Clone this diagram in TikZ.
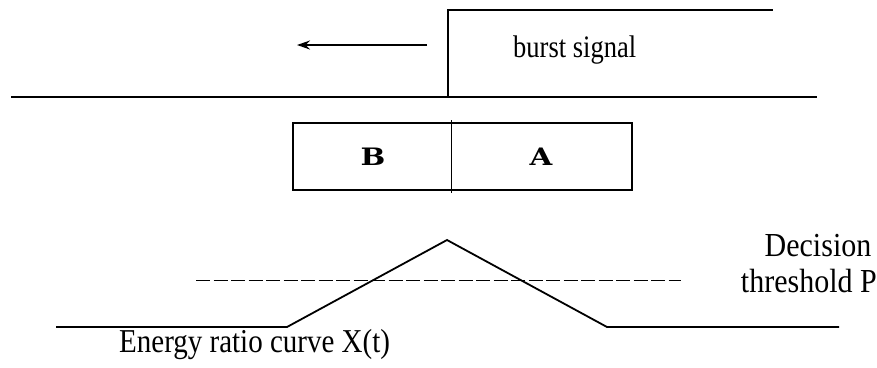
\documentclass[tikz,border=0pt]{standalone}
\usepackage{fontspec}
\setmainfont{Liberation Serif}
\newfontfamily\boxfont{DejaVu Serif}
\usetikzlibrary{arrows.meta}
\begin{document}
\begin{tikzpicture}[x=1pt,y=-1pt,
  lbl/.style={font=\fontsize{26.5}{32}\selectfont, inner sep=0pt, yscale=1.18},
  biglbl/.style={font=\fontsize{30}{36}\selectfont, inner sep=0pt, yscale=1.12},
  englbl/.style={font=\fontsize{29}{36}\selectfont, inner sep=0pt, yscale=1.15},
  boxlbl/.style={font=\boxfont\bfseries\fontsize{24}{28}\selectfont, inner sep=0pt, xscale=1.22},
  thick line/.style={line width=2.2pt},
  mid line/.style={line width=1.8pt},
  thin line/.style={line width=1pt}]
\useasboundingbox (0,0) rectangle (877,367);
% burst signal step
\coordinate (b0) at (11,97);
\coordinate (b1) at (448,97);
\coordinate (b2) at (817,97);
\coordinate (s1) at (448,10);
\coordinate (s2) at (773,10);
\draw[thick line] (b0) -- (b2);
\draw[mid line] (b1) -- (s1) -- (s2);
\coordinate (a0) at (427,45);
\coordinate (a1) at (297,45);
\draw[mid line,-{Stealth[length=13pt,width=9pt]}] (a0) -- (a1);
\node[lbl, anchor=base west] (burst) at (513,57) {burst signal};
% window box
\node[draw, thick line, minimum width=339pt, minimum height=67pt, inner sep=0pt] (win) at (462.5,156.5) {};
\coordinate (d0) at (451,120);
\coordinate (d1) at (451,193);
\draw[thin line] (d0) -- (d1);
\node[boxlbl] (B) at (373,157) {B};
\node[boxlbl] (A) at (541,157) {A};
% energy curve
\coordinate (e0) at (56,327);
\coordinate (e1) at (287,327);
\coordinate (e2) at (447,240);
\coordinate (e3) at (607,327);
\coordinate (e4) at (839,327);
\draw[mid line] (e0) -- (e1) -- (e2) -- (e3) -- (e4);
\coordinate (t0) at (196,280);
\coordinate (t1) at (681,280);
\draw[line width=1pt, dash pattern=on 14pt off 3.5pt] (t0) -- (t1);
\node[biglbl, anchor=base] (dec) at (818,256) {Decision};
\node[biglbl, anchor=base east] (thr) at (877,292) {threshold P};
\node[englbl, anchor=base west] (eng) at (119,352) {Energy ratio curve X(t)};
\end{tikzpicture}
\end{document}
